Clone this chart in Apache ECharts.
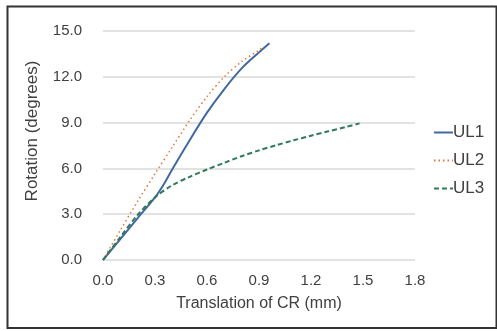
<!DOCTYPE html>
<html><head><meta charset="utf-8">
<script src="https://cdn.jsdelivr.net/npm/echarts@6/dist/echarts.min.js"></script>
<style>html,body{margin:0;padding:0;background:#fff}#c{width:497px;height:331px}</style>
</head><body><div id="c"></div>
<script>
const seriesNames = ['UL1', 'UL2', 'UL3'];
const ul1X = [0, 0.1, 0.2, 0.3, 0.35, 0.4, 0.5, 0.6, 0.7, 0.8, 0.9, 0.96];
const ul1Y = [0, 1.37, 2.75, 4.1, 4.95, 5.95, 7.85, 9.65, 11.2, 12.55, 13.6, 14.2];
const ul2X = [0, 0.1, 0.2, 0.3, 0.4, 0.5, 0.6, 0.7, 0.8, 0.9, 0.93];
const ul2Y = [0, 1.95, 3.85, 5.65, 7.4, 9.15, 10.7, 12.0, 13.0, 13.75, 14.0];
const ul3X = [0, 0.1, 0.2, 0.3, 0.4, 0.5, 0.6, 0.7, 0.8, 0.9, 1.0, 1.1, 1.2, 1.3, 1.4, 1.48];
const ul3Y = [0, 1.5, 2.95, 4.1, 4.9, 5.45, 5.93, 6.37, 6.8, 7.18, 7.52, 7.84, 8.14, 8.43, 8.71, 8.95];
const xTicks = [0, 0.3, 0.6, 0.9, 1.2, 1.5, 1.8];
const yTicks = [0, 3, 6, 9, 12, 15];
const xTitle = 'Translation of CR (mm)';
const yTitle = 'Rotation (degrees)';

const zip = (xs, ys) => xs.map((x, i) => [x, ys[i]]);
const txt = '#404040';
const font = 'Liberation Sans, Arial, sans-serif';
const chart = echarts.init(document.getElementById('c'));
chart.setOption({
  animation: false,
  backgroundColor: '#fff',
  grid: { left: 103, right: 82, top: 31, bottom: 71, containLabel: false },
  xAxis: {
    type: 'value', min: xTicks[0], max: xTicks[xTicks.length - 1], interval: xTicks[1] - xTicks[0],
    axisLine: { show: false }, axisTick: { show: false }, splitLine: { show: false },
    axisLabel: { color: txt, fontFamily: font, fontSize: 15, margin: 13, formatter: v => v.toFixed(1) },
    name: xTitle, nameLocation: 'middle', nameGap: 36,
    nameTextStyle: { color: txt, fontFamily: font, fontSize: 16 }
  },
  yAxis: {
    type: 'value', min: yTicks[0], max: yTicks[yTicks.length - 1], interval: yTicks[1] - yTicks[0],
    axisLine: { show: false }, axisTick: { show: false },
    splitLine: { lineStyle: { color: '#D9D9D9', width: 1.5 } },
    axisLabel: { color: txt, fontFamily: font, fontSize: 15, margin: 21, formatter: v => v.toFixed(1) }
  },
  legend: {
    orient: 'vertical', left: 433, top: 124, padding: 0, itemWidth: 19, itemHeight: 14, itemGap: 11,
    itemStyle: { opacity: 0 },
    textStyle: { color: txt, fontFamily: font, fontSize: 17, padding: [0, 0, 0, -5] },
    data: seriesNames
  },
  graphic: [
    { type: 'rect', shape: { x: 7.5, y: 6.5, width: 489, height: 321.5 }, style: { fill: 'none', stroke: '#333', lineWidth: 2 }, silent: true },
    { type: 'text', x: 32, y: 131, rotation: Math.PI / 2,
      style: { text: yTitle, fill: txt, font: '17px ' + font, align: 'center', verticalAlign: 'middle' } }
  ],
  series: [
    { name: seriesNames[0], type: 'line', data: zip(ul1X, ul1Y), symbol: 'none', smooth: 0.3,
      lineStyle: { color: '#41699F', width: 2 }, itemStyle: { color: '#41699F' } },
    { name: seriesNames[1], type: 'line', data: zip(ul2X, ul2Y), symbol: 'none', smooth: 0.3,
      lineStyle: { color: '#E2763F', width: 1.5, type: [1.5, 3] }, itemStyle: { color: '#E2763F' } },
    { name: seriesNames[2], type: 'line', data: zip(ul3X, ul3Y), symbol: 'none', smooth: 0.3,
      lineStyle: { color: '#2F7A5A', width: 2, type: [5, 3] }, itemStyle: { color: '#2F7A5A' } }
  ]
});
</script></body></html>
